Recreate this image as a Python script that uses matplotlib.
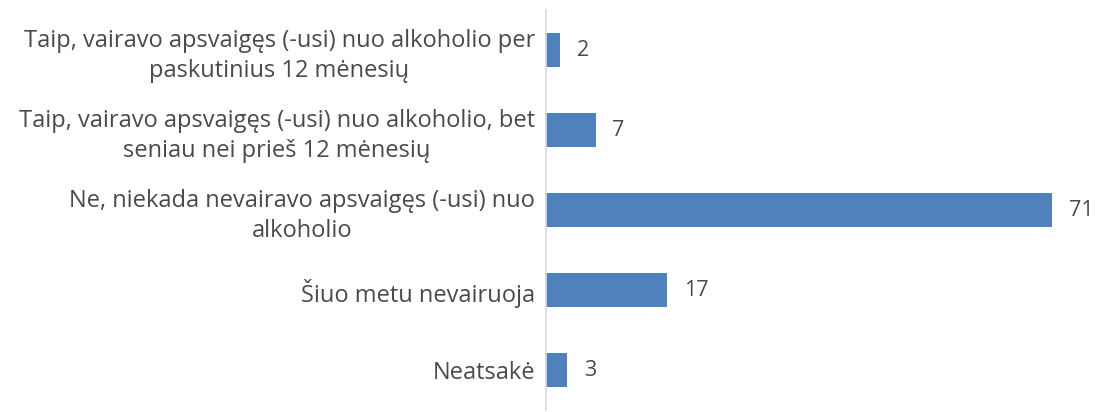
import numpy as np
import matplotlib
matplotlib.use('agg')
import matplotlib.pyplot as plt

categories = [
    "Taip, vairavo apsvaigęs (-usi) nuo alkoholio per\npaskutinius 12 mėnesių",
    "Taip, vairavo apsvaigęs (-usi) nuo alkoholio, bet\nseniau nei prieš 12 mėnesių",
    "Ne, niekada nevairavo apsvaigęs (-usi) nuo\nalkoholio",
    "Šiuo metu nevairuoja",
    "Neatsakė",
]
values = [2, 7, 71, 17, 3]

bar_color = '#4f81bd'
txt_color = '#4a4a4a'
fs = 17

fig = plt.figure(figsize=(10.95, 4.12), dpi=100)
ax = fig.add_axes([546/1095, 2/412, (1095-546)/1095, 400/412])

y = np.arange(len(categories))
ax.barh(y, values, height=0.43, color=bar_color)
ax.set_ylim(len(categories) - 0.5, -0.5)
ax.set_xlim(0, 77)

for yi, v in zip(y, values):
    ax.text(v + 2.3, yi, str(v), va='center', ha='left', fontsize=fs - 1.5,
            color=txt_color, family='Open Sans')

ax.set_yticks(y)
ax.set_yticklabels(categories, fontsize=fs, color=txt_color, family='Open Sans',
                   multialignment='center', linespacing=1.35)
ax.tick_params(axis='y', length=0, pad=8)
ax.set_xticks([])
for s in ['top', 'right', 'bottom']:
    ax.spines[s].set_visible(False)
ax.spines['left'].set_color('#d9d9d9')
ax.spines['left'].set_linewidth(1.2)

fig.savefig("out.png", dpi=100)
